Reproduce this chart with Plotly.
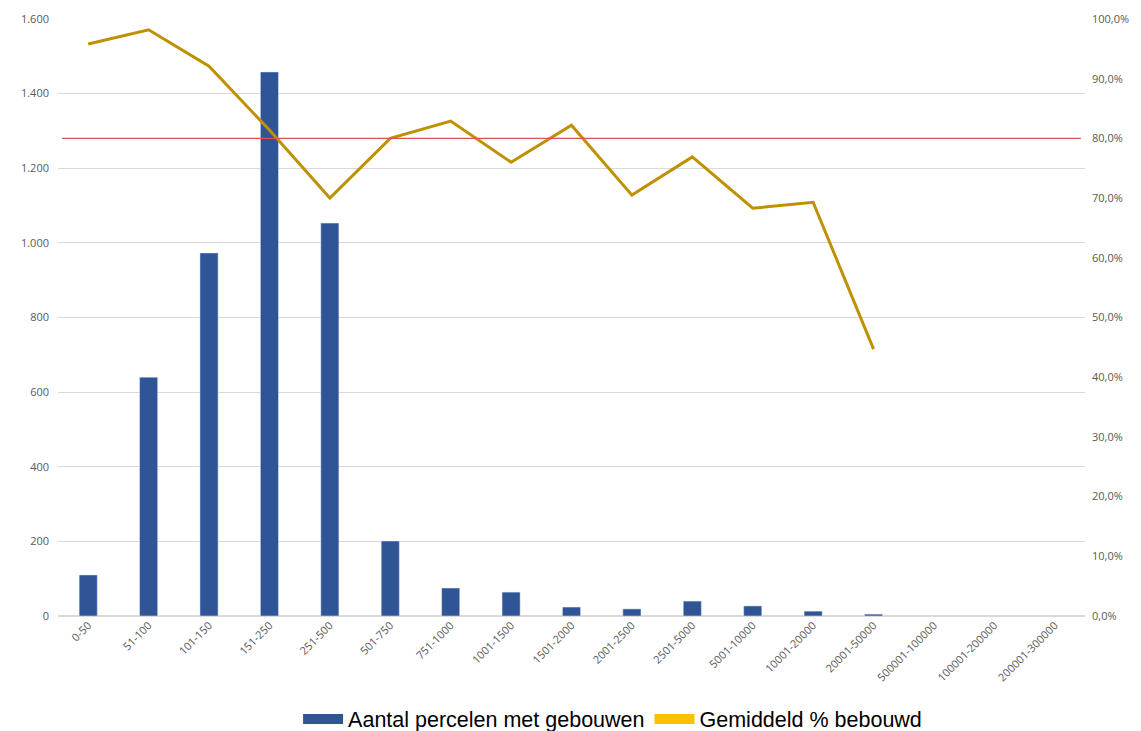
import plotly.graph_objects as go

categories = ["0-50", "51-100", "101-150", "151-250", "251-500", "501-750", "751-1000",
              "1001-1500", "1501-2000", "2001-2500", "2501-5000", "5001-10000",
              "10001-20000", "20001-50000", "500001-100000", "100001-200000", "200001-300000"]
aantal = [110, 640, 973, 1458, 1053, 201, 75, 64, 24, 19, 40, 27, 13, 5, None, None, None]
pct_bebouwd = [0.958, 0.982, 0.921, 0.814, 0.700, 0.800, 0.829, 0.760, 0.822, 0.705,
               0.769, 0.683, 0.693, 0.447, None, None, None]
threshold = 0.80

bar_color = "#2F5597"
line_color = "#BF9000"
legend_line_color = "#FFC000"

fig = go.Figure()
fig.add_trace(go.Bar(x=categories, y=aantal, marker_color=bar_color, showlegend=False,
                     name="Aantal percelen met gebouwen"))
fig.add_trace(go.Scatter(x=categories, y=pct_bebouwd, mode="lines", yaxis="y2",
                         line=dict(color=line_color, width=3), showlegend=False,
                         name="Gemiddeld % bebouwd"))
# legend entries as wide boxes
fig.add_trace(go.Scatter(x=[None], y=[None], mode="lines", line=dict(color=bar_color, width=16),
                         name="Aantal percelen met gebouwen"))
fig.add_trace(go.Scatter(x=[None], y=[None], mode="lines", line=dict(color=legend_line_color, width=16),
                         name="Gemiddeld % bebouwd", yaxis="y2"))

fig.add_shape(type="line", xref="paper", x0=0.004, x1=0.996, yref="y2", y0=threshold, y1=threshold,
              line=dict(color="#E05050", width=1.2))

tick_font = dict(family="Open Sans, DejaVu Sans", size=11, color="#595959")
fig.update_layout(
    width=1133, height=723,
    margin=dict(l=50, r=56, t=11, b=115, autoexpand=False),
    plot_bgcolor="white", paper_bgcolor="white",
    separators=",.",
    bargap=0.7,
    xaxis=dict(tickangle=-45, tickfont=tick_font, showgrid=False, showline=False,
               ticks="", automargin=False),
    yaxis=dict(range=[0, 1600], dtick=200, tickformat=",", tickfont=tick_font,
               showgrid=True, gridcolor="#D9D9D9", gridwidth=1, zeroline=True,
               zerolinecolor="#D9D9D9", ticks="", ticklabelstandoff=8, automargin=False),
    yaxis2=dict(range=[0, 1], dtick=0.1, tickformat=".1%", overlaying="y", side="right",
                tickfont=tick_font, showgrid=False, zeroline=False, ticks="",
                ticklabelstandoff=6, automargin=False),
    legend=dict(orientation="h", x=0.54, xanchor="center", y=-0.1725, yanchor="middle",
                font=dict(family="Liberation Sans, Arial", size=21.5, color="#000000"),
                traceorder="normal", itemwidth=40),
)

fig.write_html("out.html")
